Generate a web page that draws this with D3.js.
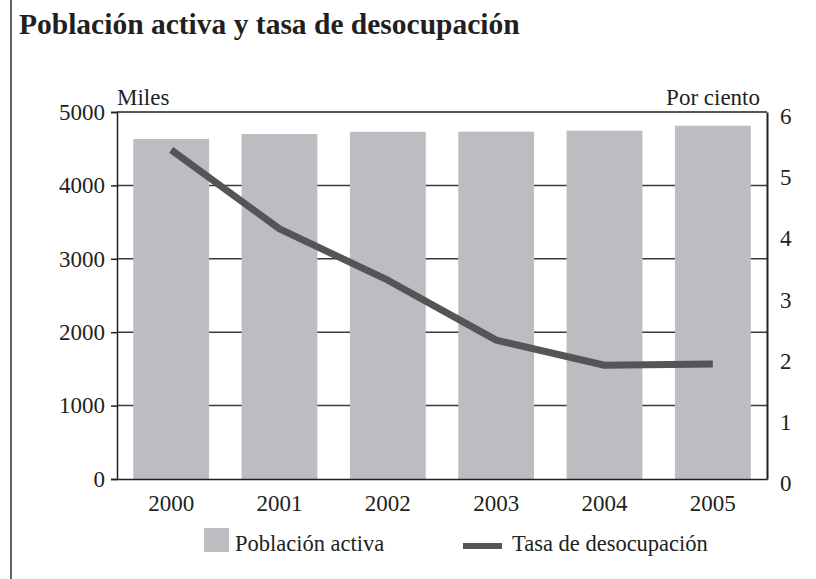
<!DOCTYPE html>
<html lang="es">
<head>
<meta charset="UTF-8" />
<title>Población activa y tasa de desocupación</title>
<script src="https://cdn.jsdelivr.net/npm/d3@7"></script>
<style>
  body { margin: 0; background: #fff; }
  svg text { font-family: "Liberation Serif", "DejaVu Serif", serif; fill: #231f20; }
</style>
</head>
<body>
<div id="app"></div>
<script>
// DATOS
const anios = ["2000", "2001", "2002", "2003", "2004", "2005"];
const poblacionActiva = [4632, 4700, 4730, 4732, 4745, 4813];   // miles
const tasaDesocupacion = [5.38, 4.09, 3.25, 2.27, 1.86, 1.88];  // por ciento
const ticksMiles = [0, 1000, 2000, 3000, 4000, 5000];
const ticksPorCiento = [0, 1, 2, 3, 4, 5, 6];
const leyenda = ["Población activa", "Tasa de desocupación"];

// SVG
const w = 816;
const h = 579;
const m = { left: 117, right: 767, top: 112, bottom: 479 };
const colorBarra = "#bcbdc1";
const colorLinea = "#555557";
const fs = "23px";

const svg = d3.select("#app")
  .append("svg")
  .attr("width", w)
  .attr("height", h);

// marco izquierdo
svg.append("line")
  .attr("x1", 11).attr("x2", 11)
  .attr("y1", 0).attr("y2", h)
  .attr("stroke", "#333").attr("stroke-width", 1.5);

// titulo
svg.append("text")
  .attr("x", 19).attr("y", 34)
  .style("font-size", "29.5px")
  .style("font-weight", "bold")
  .text("Población activa y tasa de desocupación");

// ESCALAS
const xScale = d3.scaleBand()
  .domain(anios)
  .range([m.left, m.right])
  .paddingInner(0.3)
  .paddingOuter(0.15);

const yLeft = d3.scaleLinear().domain([0, 5000]).range([m.bottom, m.top]);
const yRight = d3.scaleLinear().domain([0, 6]).range([m.bottom, m.top]);

// lineas de grilla
svg.append("g")
  .selectAll("line")
  .data(ticksMiles.filter(t => t > 0 && t < 5000))
  .enter()
  .append("line")
  .attr("x1", m.left).attr("x2", m.right)
  .attr("y1", d => yLeft(d)).attr("y2", d => yLeft(d))
  .attr("stroke", "#3a3a3a").attr("stroke-width", 1.5);

// borde superior
svg.append("line")
  .attr("x1", m.left).attr("x2", m.right)
  .attr("y1", yLeft(5000)).attr("y2", yLeft(5000))
  .attr("stroke", "#231f20").attr("stroke-width", 1.5);

// barras
svg.append("g")
  .selectAll("rect")
  .data(poblacionActiva)
  .enter()
  .append("rect")
  .attr("x", (d, i) => xScale(anios[i]))
  .attr("y", d => yLeft(d))
  .attr("width", xScale.bandwidth())
  .attr("height", d => yLeft(0) - yLeft(d))
  .attr("fill", colorBarra);

// linea de desocupacion
const linea = d3.line()
  .x((d, i) => xScale(anios[i]) + xScale.bandwidth() / 2)
  .y(d => yRight(d));

svg.append("path")
  .datum(tasaDesocupacion)
  .attr("d", linea)
  .attr("fill", "none")
  .attr("stroke", colorLinea)
  .attr("stroke-width", 7)
  .attr("stroke-linejoin", "round");

// EJES
const yAxisLeft = d3.axisLeft(yLeft).tickValues(ticksMiles).tickSize(6).tickPadding(6).tickFormat(d3.format("d"));
const yAxisRight = d3.axisRight(yRight).tickValues(ticksPorCiento).tickSize(0).tickPadding(13).tickFormat(d3.format("d"));
const xAxis = d3.axisBottom(xScale).tickSize(0).tickPadding(12);

const gL = svg.append("g")
  .attr("transform", "translate(" + m.left + ",0)")
  .call(yAxisLeft);

const gR = svg.append("g")
  .attr("transform", "translate(" + m.right + ",0)")
  .call(yAxisRight);

const gX = svg.append("g")
  .attr("transform", "translate(0," + m.bottom + ")")
  .call(xAxis);

[gL, gR, gX].forEach(g => {
  g.attr("font-family", null).attr("font-size", null);
  g.selectAll("text")
    .style("font-family", '"Liberation Serif", serif')
    .style("font-size", fs)
    .attr("fill", "#231f20");
  g.select(".domain").attr("stroke", "#231f20").attr("stroke-width", 1.5);
  g.selectAll(".tick line").attr("stroke", "#231f20").attr("stroke-width", 1.5);
});
gR.select(".domain").attr("stroke-width", 2);
gR.selectAll("text").attr("dy", "0.5em");
gX.selectAll("text").attr("dy", "0.85em");

// unidades
svg.append("text")
  .attr("x", m.left).attr("y", 105)
  .style("font-size", fs)
  .text("Miles");

svg.append("text")
  .attr("x", 760).attr("y", 105)
  .attr("text-anchor", "end")
  .style("font-size", fs)
  .text("Por ciento");

// LEYENDA
const gLey = svg.append("g");
gLey.append("rect")
  .attr("x", 204).attr("y", 528)
  .attr("width", 25).attr("height", 24)
  .attr("fill", colorBarra);
gLey.append("text")
  .attr("x", 235).attr("y", 551)
  .style("font-size", "22.5px")
  .text(leyenda[0]);
gLey.append("line")
  .attr("x1", 463).attr("x2", 502)
  .attr("y1", 546).attr("y2", 546)
  .attr("stroke", colorLinea).attr("stroke-width", 6);
gLey.append("text")
  .attr("x", 512).attr("y", 551)
  .style("font-size", "22.5px")
  .text(leyenda[1]);
</script>
</body>
</html>
